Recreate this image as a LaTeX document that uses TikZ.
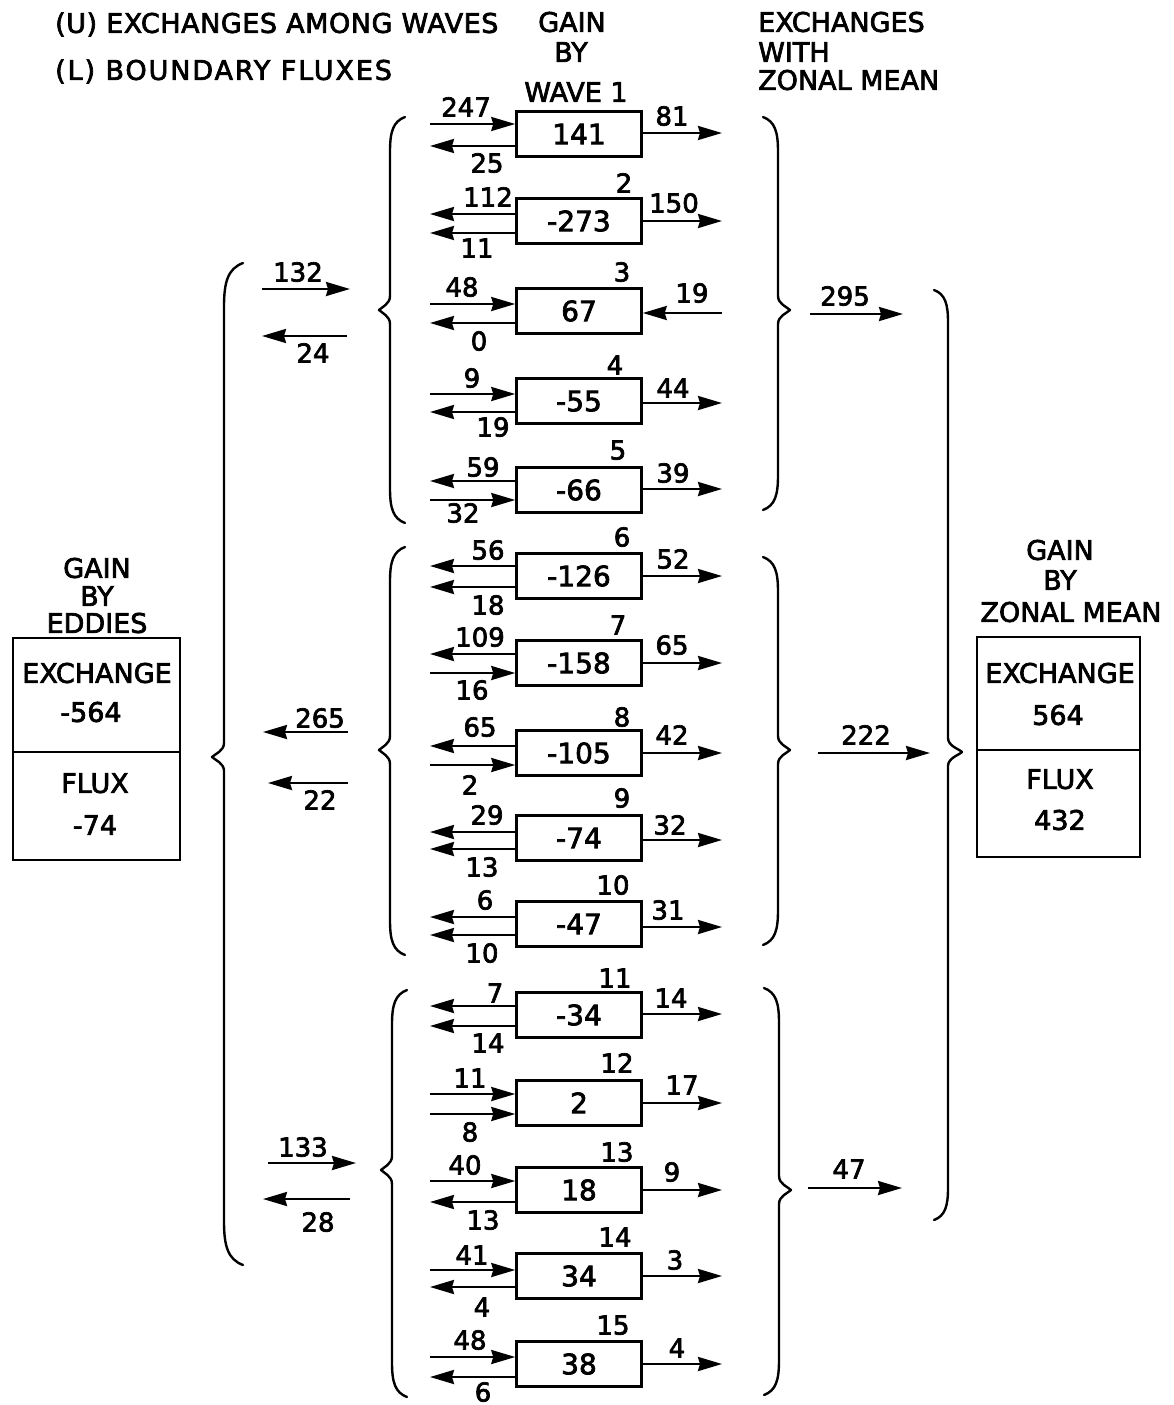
\documentclass[tikz,border=0pt]{standalone}
\usepackage{fontspec}
\setmainfont{DejaVu Sans}[BoldFont={DejaVu Sans},BoldFeatures={FakeBold=2.6}]
\usetikzlibrary{arrows.meta}
\begin{document}
\begin{tikzpicture}[x=1pt,y=-1pt,
  >={Stealth[length=24pt,width=14pt,inset=2pt]},
  wbox/.style={draw, line width=2.5pt, minimum width=125pt, minimum height=45pt, inner sep=0pt,
    text height=20.4pt, text depth=0pt, font=\fontsize{28}{30}\selectfont\bfseries},
  sbox/.style={draw, line width=2.6pt, inner sep=0pt},
  lab/.style={inner sep=0pt, text height=19pt, text depth=0pt, font=\fontsize{26}{28}\selectfont\bfseries},
  hdr/.style={inner sep=0pt, text height=19.7pt, text depth=0pt, font=\fontsize{27}{29}\selectfont\bfseries},
  ar/.style={line width=2.4pt},
  brace/.style={line width=2.4pt, line cap=round, line join=round}]
\useasboundingbox (0,0) rectangle (1174,1405);

% wave row macro
\newcommand\wrow[9]{%
  \node[wbox] (#1) at (579,#2) {#3};
  \coordinate (#1u) at (430,#4);
  \coordinate (#1l) at (430,#6);
  \coordinate (#1r) at (722,#8);
  \draw[ar,#5] (#1u) -- (#1u -| #1.west);
  \draw[ar,#7] (#1l) -- (#1l -| #1.west);
  \draw[ar,#9] (#1.east |- #1r) -- (#1r);
}
\newcommand\lb[3]{\node[lab] (#1) at (#2) {#3};}

% left brace: x, ytop, ytip, ybot, tipx, curl
\newcommand\lbr[6]{\draw[brace] ({#1+#6},#2) .. controls ({#1+0.2*#6},{#2+0.3*#6}) and (#1,{#2+#6}) .. (#1,{#2+2.3*#6}) -- (#1,#3-14) .. controls (#1,#3-6) and (#5+3,#3-3) .. (#5,#3) .. controls (#5+3,#3+3) and (#1,#3+6) .. (#1,#3+14) -- (#1,{#4-2.3*#6}) .. controls (#1,{#4-#6}) and ({#1+0.2*#6},{#4-0.3*#6}) .. ({#1+#6},#4);}
\newcommand\rbr[6]{\draw[brace] ({#1-#6},#2) .. controls ({#1-0.2*#6},{#2+0.3*#6}) and (#1,{#2+#6}) .. (#1,{#2+2.3*#6}) -- (#1,#3-14) .. controls (#1,#3-6) and (#5-3,#3-3) .. (#5,#3) .. controls (#5-3,#3+3) and (#1,#3+6) .. (#1,#3+14) -- (#1,{#4-2.3*#6}) .. controls (#1,{#4-#6}) and ({#1-0.2*#6},{#4-0.3*#6}) .. ({#1-#6},#4);}

% headers
\node[hdr,anchor=west] (hU) at (55,23) {\addfontfeature{LetterSpace=2}(U) EXCHANGES AMONG WAVES};
\node[hdr,anchor=west] (hL) at (55,70) {\addfontfeature{LetterSpace=7}(L) BOUNDARY FLUXES};
\node[hdr] (hG) at (572,22) {GAIN};
\node[hdr] (hB) at (571,52) {BY};
\node[hdr] (hW) at (576,92) {WAVE 1};
\node[hdr,anchor=west] (hE) at (758,22) {EXCHANGES};
\node[hdr,anchor=west] (hWi) at (758,52) {WITH};
\node[hdr,anchor=west] (hZ) at (758,80) {ZONAL MEAN};

% wave rows
\wrow{w1}{134}{141}{124}{->}{146}{<-}{133}{->}
\wrow{w2}{221}{-273}{214}{<-}{233}{<-}{221}{->}
\wrow{w3}{311}{67}{304}{->}{323}{<-}{313}{<-}
\wrow{w4}{401}{-55}{394}{->}{412}{<-}{403}{->}
\wrow{w5}{490}{-66}{481}{<-}{500}{->}{489}{->}
\wrow{w6}{576}{-126}{566}{<-}{587}{<-}{576}{->}
\wrow{w7}{663}{-158}{654}{<-}{673}{->}{663}{->}
\wrow{w8}{753}{-105}{746}{<-}{765}{->}{753}{->}
\wrow{w9}{838}{-74}{832}{<-}{849}{<-}{840}{->}
\wrow{w10}{924}{-47}{917}{<-}{935}{<-}{927}{->}
\wrow{w11}{1015}{-34}{1006}{<-}{1026}{<-}{1014}{->}
\wrow{w12}{1103}{2}{1094}{->}{1114}{->}{1103}{->}
\wrow{w13}{1190}{18}{1181}{->}{1202}{<-}{1190}{->}
\wrow{w14}{1276}{34}{1270}{->}{1287}{<-}{1276}{->}
\wrow{w15}{1364}{38}{1357}{->}{1377}{<-}{1364}{->}

% row labels
\lb{l1a}{466,107}{247}\lb{l1b}{487,163}{25}\lb{l1c}{672,116}{81}
\lb{l2a}{488,197}{112}\lb{l2b}{477,248}{11}\lb{l2c}{674,203}{150}\lb{n2}{624,183}{2}
\lb{l3a}{462,287}{48}\lb{l3b}{479,341}{0}\lb{l3c}{692,293}{19}\lb{n3}{622,272}{3}
\lb{l4a}{472,378}{9}\lb{l4b}{493,427}{19}\lb{l4c}{673,388}{44}\lb{n4}{615,365}{4}
\lb{l5a}{483,467}{59}\lb{l5b}{463,513}{32}\lb{l5c}{673,473}{39}\lb{n5}{618,450}{5}
\lb{l6a}{488,550}{56}\lb{l6b}{488,605}{18}\lb{l6c}{673,559}{52}\lb{n6}{622,537}{6}
\lb{l7a}{480,637}{109}\lb{l7b}{472,690}{16}\lb{l7c}{672,645}{65}\lb{n7}{618,625}{7}
\lb{l8a}{480,727}{65}\lb{l8b}{470,785}{2}\lb{l8c}{672,735}{42}\lb{n8}{622,717}{8}
\lb{l9a}{487,815}{29}\lb{l9b}{482,867}{13}\lb{l9c}{670,825}{32}\lb{n9}{622,798}{9}
\lb{l10a}{485,900}{6}\lb{l10b}{482,953}{10}\lb{l10c}{668,910}{31}\lb{n10}{613,885}{10}
\lb{l11a}{495,993}{7}\lb{l11b}{488,1043}{14}\lb{l11c}{671,998}{14}\lb{n11}{615,978}{11}
\lb{l12a}{470,1078}{11}\lb{l12b}{470,1132}{8}\lb{l12c}{682,1085}{17}\lb{n12}{617,1063}{12}
\lb{l13a}{465,1165}{40}\lb{l13b}{483,1220}{13}\lb{l13c}{672,1172}{9}\lb{n13}{617,1152}{13}
\lb{l14a}{472,1255}{41}\lb{l14b}{482,1307}{4}\lb{l14c}{675,1260}{3}\lb{n14}{615,1237}{14}
\lb{l15a}{470,1340}{48}\lb{l15b}{483,1392}{6}\lb{l15c}{677,1348}{4}\lb{n15}{613,1325}{15}

% inner braces
\lbr{390}{117}{310}{523}{379}{15}
\lbr{390}{547}{750}{955}{379}{15}
\lbr{392}{990}{1170}{1397}{381}{15}
\rbr{778}{117}{310}{510}{790}{15}
\rbr{778}{557}{750}{945}{790}{15}
\rbr{779}{988}{1190}{1395}{791}{15}
% big braces
\lbr{224}{263}{757}{1265}{212}{19}
\rbr{948}{290}{752}{1220}{962}{14}

% middle arrows (left)
\coordinate (m1a) at (262,289); \coordinate (m1b) at (350,289);
\draw[ar,->] (m1a) -- (m1b); \lb{m1l}{298,272}{132}
\coordinate (m2a) at (347,336); \coordinate (m2b) at (262,336);
\draw[ar,->] (m2a) -- (m2b); \lb{m2l}{313,353}{24}
\coordinate (m3a) at (348,732); \coordinate (m3b) at (263,732);
\draw[ar,->] (m3a) -- (m3b); \lb{m3l}{320,718}{265}
\coordinate (m4a) at (348,783); \coordinate (m4b) at (268,783);
\draw[ar,->] (m4a) -- (m4b); \lb{m4l}{320,800}{22}
\coordinate (m5a) at (268,1163); \coordinate (m5b) at (356,1163);
\draw[ar,->] (m5a) -- (m5b); \lb{m5l}{303,1147}{133}
\coordinate (m6a) at (350,1199); \coordinate (m6b) at (263,1199);
\draw[ar,->] (m6a) -- (m6b); \lb{m6l}{318,1222}{28}

% right-side arrows
\coordinate (r1a) at (810,314); \coordinate (r1b) at (903,314);
\draw[ar,->] (r1a) -- (r1b); \lb{r1l}{845,296}{295}
\coordinate (r2a) at (818,753); \coordinate (r2b) at (930,753);
\draw[ar,->] (r2a) -- (r2b); \lb{r2l}{866,735}{222}
\coordinate (r3a) at (808,1188); \coordinate (r3b) at (902,1188);
\draw[ar,->] (r3a) -- (r3b); \lb{r3l}{849,1169}{47}

% left box (eddies)
\node[hdr] (eG) at (97,568) {GAIN};
\node[hdr] (eB) at (97,596) {BY};
\node[hdr] (eE) at (97,623) {EDDIES};
\node[sbox, minimum width=167pt, minimum height=114pt] (ebx1) at (96.5,695) {};
\node[sbox, minimum width=167pt, minimum height=108pt] (ebx2) at (96.5,806) {};
\node[hdr] (eT1) at (97,673) {EXCHANGE};
\node[hdr] (eV1) at (91,712) {-564};
\node[hdr] (eT2) at (95,783) {FLUX};
\node[hdr] (eV2) at (95,825) {-74};

% right box (zonal mean)
\node[hdr] (zG) at (1060,550) {GAIN};
\node[hdr] (zB) at (1060,580) {BY};
\node[hdr] (zZ) at (1071,612) {ZONAL MEAN};
\node[sbox, minimum width=163pt, minimum height=113pt] (zbx1) at (1058.5,693.5) {};
\node[sbox, minimum width=163pt, minimum height=107pt] (zbx2) at (1058.5,803.5) {};
\node[hdr] (zT1) at (1060,673) {EXCHANGE};
\node[hdr] (zV1) at (1058,715) {564};
\node[hdr] (zT2) at (1060,779) {FLUX};
\node[hdr] (zV2) at (1060,820) {432};
\end{tikzpicture}
\end{document}
